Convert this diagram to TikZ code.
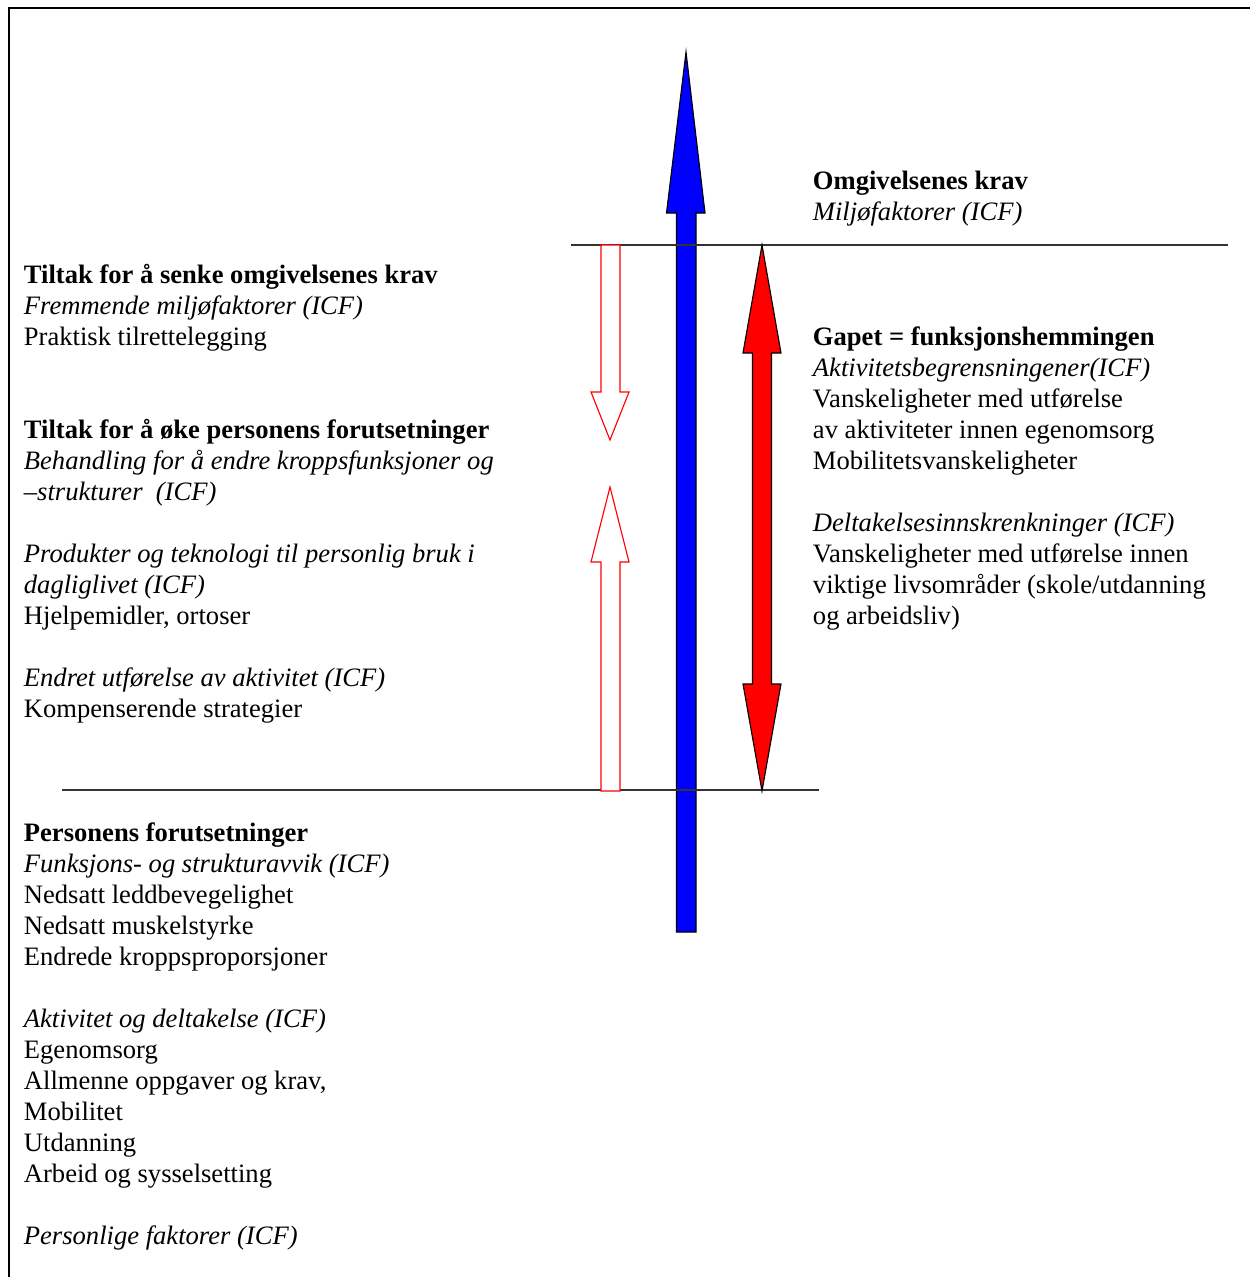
\documentclass[tikz,border=0pt]{standalone}
\usepackage{fontspec}
\setmainfont{Liberation Serif}
\begin{document}
\begin{tikzpicture}[x=0.445pt,y=-0.445pt,
  txt/.style={anchor=north west, inner sep=0pt, align=left,
    font=\fontsize{11.83}{13.8}\selectfont},
  frameline/.style={line width=0.9pt, black},
  level/.style={line width=0.5pt, black!80},
  solidarrow/.style={draw=black, line width=0.5pt, line join=miter},
  hollowarrow/.style={draw=red, fill=white, line width=0.5pt, line join=miter}]
\useasboundingbox (0,0) rectangle (1250,1277);

% frame (top and left edges)
\draw[frameline] (9,1277) -- (9,8) -- (1250,8);

% blue arrow: the person's capacity rising towards the demands
\coordinate (bluetip) at (686,52);
\coordinate (bluefoot) at (686,932);
\filldraw[solidarrow, fill=blue]
  (bluefoot) ++(-9.5,0) -- ++(0,-719) -- ++(-10,0) -- (bluetip)
  -- ++(19,161) -- ++(-9,0) -- ++(0,719) -- cycle;

% demand level and capacity level
\coordinate (demL) at (571,245);
\coordinate (demR) at (1228,245);
\coordinate (capL) at (62,790);
\coordinate (capR) at (819,790);
\draw[level] (demL) -- (demR);
\draw[level] (capL) -- (capR);

% red double arrow: the gap
\coordinate (gaptop) at (762,245);
\coordinate (gapbot) at (762,791);
\filldraw[solidarrow, fill=red]
  (gaptop) -- ++(19,108) -- ++(-9.5,0) -- ++(0,331) -- ++(9.5,0)
  -- (gapbot) -- ++(-19,-107) -- ++(9.5,0) -- ++(0,-331) -- ++(-9.5,0) -- cycle;

% hollow arrows: lowering the demands / raising the capacity
\coordinate (downtip) at (610,440);
\coordinate (uptip) at (610,487);
\filldraw[hollowarrow]
  (601,245) -- (620,245) -- (620,392) -- (629,392) -- (downtip)
  -- (591,392) -- (601,392) -- cycle;
\filldraw[hollowarrow]
  (uptip) -- (629,562) -- (620,562) -- (620,791) -- (601,791)
  -- (601,562) -- (591,562) -- cycle;

% texts on the right
\node[txt] (omg) at (812.5,167) {\strut\textbf{Omgivelsenes krav}\\
  \textit{Miljøfaktorer (ICF)}};
\node[txt] (gap) at (812.5,323) {\strut\textbf{Gapet = funksjonshemmingen}\\
  \textit{Aktivitetsbegrensningener(ICF)}\\
  Vanskeligheter med utførelse\\
  av aktiviteter innen egenomsorg\\
  Mobilitetsvanskeligheter\\
  \strut\\
  \textit{Deltakelsesinnskrenkninger (ICF)}\\
  Vanskeligheter med utførelse innen\\
  viktige livsområder (skole/utdanning\\
  og arbeidsliv)};

% texts on the left
\node[txt] (tiltak) at (23.5,261) {\strut\textbf{Tiltak for å senke omgivelsenes krav}\\
  \textit{Fremmende miljøfaktorer (ICF)}\\
  Praktisk tilrettelegging\\
  \strut\\
  \strut\\
  \textbf{Tiltak for å øke personens forutsetninger}\\
  \textit{Behandling for å endre kroppsfunksjoner og}\\
  \textit{–strukturer\ \ (ICF)}\\
  \strut\\
  \textit{Produkter og teknologi til personlig bruk i}\\
  \textit{dagliglivet (ICF)}\\
  Hjelpemidler, ortoser\\
  \strut\\
  \textit{Endret utførelse av aktivitet (ICF)}\\
  Kompenserende strategier};
\node[txt] (person) at (23.5,819) {\strut\textbf{Personens forutsetninger}\\
  \textit{Funksjons- og strukturavvik (ICF)}\\
  Nedsatt leddbevegelighet\\
  Nedsatt muskelstyrke\\
  Endrede kroppsproporsjoner\\
  \strut\\
  \textit{Aktivitet og deltakelse (ICF)}\\
  Egenomsorg\\
  Allmenne oppgaver og krav,\\
  Mobilitet\\
  Utdanning\\
  Arbeid og sysselsetting\\
  \strut\\
  \textit{Personlige faktorer (ICF)}};
\end{tikzpicture}
\end{document}
